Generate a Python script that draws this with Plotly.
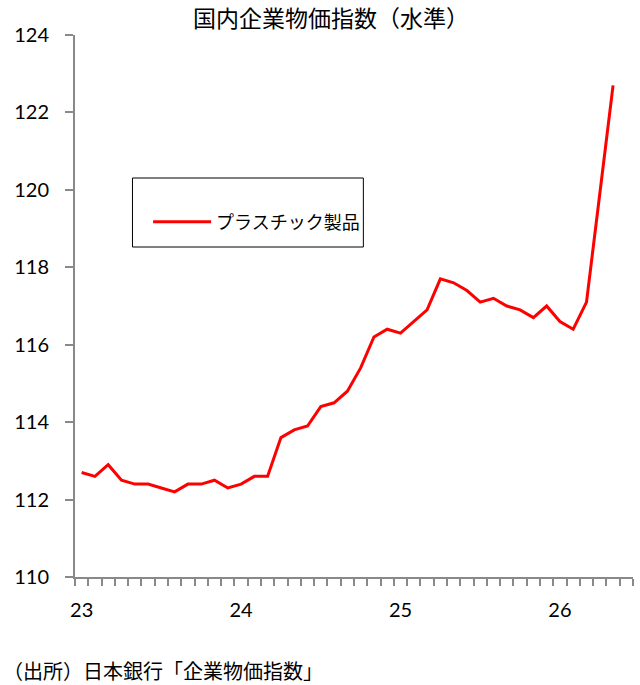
import plotly.graph_objects as go

# Monthly categories (Jan 2023 - May 2026); the axis keeps one empty slot after the data
months = [f"{y}-{m:02d}" for y in (2023, 2024, 2025, 2026) for m in range(1, 13)][:41]
plastic = [112.7, 112.6, 112.9, 112.5, 112.4, 112.4, 112.3, 112.2, 112.4, 112.4,
           112.5, 112.3, 112.4, 112.6, 112.6, 113.6, 113.8, 113.9, 114.4, 114.5,
           114.8, 115.4, 116.2, 116.4, 116.3, 116.6, 116.9, 117.7, 117.6, 117.4,
           117.1, 117.2, 117.0, 116.9, 116.7, 117.0, 116.6, 116.4, 117.1, 119.9,
           122.7]
n_slots = 42
year_labels = ["23", "24", "25", "26"]
year_idx = [months.index(f"20{y}-01") for y in year_labels]
y_ticks = [110, 112, 114, 116, 118, 120, 122, 124]

title = "国内企業物価指数（水準）"
series_name = "プラスチック製品"
source = "（出所）日本銀行「企業物価指数」"

FONT = "Lato, 'Noto Sans CJK JP', sans-serif"
JFONT = "'Noto Sans CJK JP', sans-serif"
AXIS = "#898989"

x = list(range(len(months)))

fig = go.Figure()
fig.add_trace(go.Scatter(
    x=x, y=plastic, mode="lines", name=series_name,
    line=dict(color="#FF0000", width=3),
))

fig.update_layout(
    width=640, height=685,
    margin=dict(l=75, r=7, t=35, b=108),
    paper_bgcolor="white", plot_bgcolor="white",
    font=dict(family=FONT, size=20, color="#000000"),
    title=dict(text=title, x=0.517, xref="container", xanchor="center",
               y=1 - 19 / 685, yref="container", yanchor="middle",
               font=dict(family=JFONT, size=23, color="#000000")),
    showlegend=True,
    legend=dict(x=0.131, y=0.655, xanchor="left", yanchor="middle",
                bgcolor="rgba(0,0,0,0)", borderwidth=0, itemwidth=58,
                font=dict(family=JFONT, size=18, color="#000000")),
    shapes=[dict(type="rect", xref="paper", yref="paper",
                 x0=(132.5 - 75) / 558.3, x1=(363.5 - 75) / 558.3,
                 y0=(577 - 247) / 542, y1=(577 - 178) / 542,
                 line=dict(color="#000000", width=1), fillcolor="rgba(0,0,0,0)")],
    annotations=[dict(text=source, xref="paper", yref="paper",
                      x=-74 / 558.3, y=(577 - 670) / 542, xanchor="left", yanchor="middle",
                      showarrow=False, font=dict(family=JFONT, size=20, color="#000000"))],
)

fig.update_xaxes(
    range=[-0.5, n_slots - 0.5],
    tickmode="array", tickvals=year_idx, ticktext=year_labels,
    ticks="", showgrid=False, zeroline=False,
    showline=True, linecolor=AXIS, linewidth=2,
    tickfont=dict(family=FONT, size=20),
    ticklabelstandoff=14,
    minor=dict(tickmode="array", tickvals=[i - 0.5 for i in range(n_slots + 1)],
               ticks="outside", ticklen=7, tickcolor=AXIS, tickwidth=2, showgrid=False),
)
fig.update_yaxes(
    range=[110, 124], tickmode="array", tickvals=y_ticks,
    ticks="outside", ticklen=8, tickcolor=AXIS, tickwidth=2,
    showgrid=False, zeroline=False,
    showline=True, linecolor=AXIS, linewidth=2,
    tickfont=dict(family=FONT, size=20),
    ticklabelstandoff=12,
)

fig.write_html("out.html")
